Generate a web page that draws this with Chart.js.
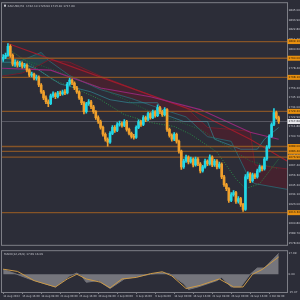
<!DOCTYPE html>
<html>
<head>
<meta charset="utf-8">
<script src="https://cdn.jsdelivr.net/npm/chart.js@4.4.1/dist/chart.umd.min.js"></script>
<style>
  html, body { margin: 0; padding: 0; background: #2c2d38; }
  #wrap { position: relative; width: 300px; height: 300px; overflow: hidden; }
  canvas { position: absolute; left: 0; }
  #main { top: 0; }
  #macd { top: 248px; }
</style>
</head>
<body>
<div id="wrap">
  <canvas id="main" width="300" height="248"></canvas>
  <canvas id="macd" width="300" height="52"></canvas>
</div>
<script>
"use strict"

// XAUUSD H4, values
const firstOpen = 1789.0
const closes = [
  1791.1,1793.3,1803.5,1793.3,1783.1,1785.4,1782.0,1784.3,1780.9,1782.0,
  1776.4,1770.7,1771.8,1767.3,1768.4,1759.4,1751.5,1744.7,1740.2,1737.9,
  1747.0,1749.2,1745.9,1750.4,1749.2,1751.5,1750.4,1760.5,1765.1,1761.7,
  1756.0,1751.5,1744.7,1739.1,1728.9,1737.9,1740.2,1734.5,1728.9,1722.1,
  1717.6,1710.9,1703.0,1697.3,1693.9,1704.0,1710.9,1707.4,1714.2,1715.3,
  1713.1,1717.6,1708.6,1704.0,1700.6,1699.5,1710.9,1717.6,1714.2,1722.1,
  1719.9,1726.6,1722.1,1728.9,1724.4,1733.4,1728.9,1725.5,1731.2,1708.6,
  1701.8,1697.3,1703.0,1695.0,1683.7,1665.6,1672.4,1676.9,1671.3,1674.7,
  1667.9,1674.7,1669.0,1661.1,1665.6,1672.4,1669.0,1676.9,1667.9,1672.4,
  1665.6,1669.0,1654.3,1645.3,1640.8,1627.2,1634.0,1636.2,1626.1,1629.5,
  1622.7,1617.0,1654.3,1657.7,1649.8,1656.6,1654.3,1661.1,1665.6,1663.4,
  1674.7,1688.2,1700.6,1714.2,1727.8,1722.1,1717.6
]
const highs = [
  1794.2,1796.0,1806.9,1805.2,1795.0,1788.3,1787.1,1786.5,1785.8,1784.2,
  1783.5,1778.0,1774.1,1773.0,1770.6,1769.8,1761.0,1753.2,1746.9,1742.4,
  1749.1,1751.6,1750.8,1752.2,1752.5,1753.6,1754.0,1762.3,1767.3,1766.4,
  1763.0,1757.9,1752.8,1746.3,1740.5,1739.6,1742.8,1741.7,1736.0,1730.2,
  1724.0,1719.1,1712.4,1704.6,1699.0,1706.2,1713.0,1712.8,1716.3,1718.0,
  1717.2,1719.8,1718.9,1710.1,1705.5,1702.8,1712.6,1719.5,1719.0,1724.3,
  1723.8,1728.4,1727.9,1730.7,1730.1,1736.8,1734.9,1730.3,1733.6,1732.5,
  1710.2,1703.5,1705.0,1704.4,1696.3,1685.0,1674.6,1679.1,1678.2,1676.8,
  1676.0,1676.9,1676.2,1670.5,1667.4,1674.5,1673.8,1679.4,1678.3,1674.2,
  1673.9,1671.1,1670.2,1655.9,1647.0,1642.1,1636.2,1638.5,1637.6,1631.8,
  1630.9,1624.1,1657.0,1660.1,1659.2,1658.7,1658.0,1663.2,1667.8,1667.0,
  1676.5,1690.0,1702.4,1716.0,1732.3,1729.6,1723.9
]
const lows = [
  1786.5,1789.4,1792.0,1791.0,1781.2,1780.6,1779.8,1780.4,1778.6,1778.9,
  1774.3,1768.9,1768.5,1765.2,1765.0,1757.6,1749.8,1742.5,1738.0,1734.6,
  1736.8,1745.2,1743.7,1744.5,1747.3,1747.8,1748.2,1749.1,1758.9,1759.8,
  1754.1,1749.6,1742.9,1736.8,1726.4,1727.2,1736.1,1732.3,1726.8,1720.0,
  1715.3,1708.7,1700.8,1695.0,1689.4,1692.5,1702.6,1705.1,1705.9,1712.4,
  1711.0,1711.6,1706.5,1702.2,1698.4,1697.3,1698.3,1709.4,1712.0,1712.8,
  1717.5,1718.6,1720.3,1720.9,1722.6,1723.0,1726.7,1723.4,1724.1,1706.3,
  1699.6,1695.1,1695.8,1692.8,1681.5,1662.9,1664.0,1670.8,1669.2,1669.9,
  1665.7,1666.4,1667.1,1658.8,1659.6,1664.1,1667.0,1667.6,1665.8,1666.3,
  1663.4,1664.0,1652.1,1643.2,1638.4,1625.0,1625.9,1632.1,1623.9,1624.2,
  1620.4,1614.8,1615.9,1652.0,1647.6,1648.3,1652.1,1652.9,1659.5,1661.2,
  1662.0,1673.1,1686.9,1699.3,1712.8,1720.3,1715.4
]

// indicator lines as [bar index, price]
const maSlow = [[-0.5,1778.6],[20,1776.4],[41,1756.0],[62,1745.9],[83,1731.2],[104,1705.2],[116,1697.3]]
const maRed = [[2,1806.9],[41,1768.4],[79,1731.2],[104,1697.3],[119.5,1672.4]]
const maFast = [[3,1799.0],[11,1784.3],[21,1765.1],[30,1756.0],[41,1742.5],[51,1725.5],[62,1716.5],[72,1711.9],[79,1702.9],[90,1682.6],[98,1652.0],[102,1640.8],[108,1646.4],[116,1674.7]]
const maMid = [[7,1789.9],[24,1774.1],[41,1756.0],[62,1728.9],[83,1708.6],[104,1672.4],[116,1663.4]]
const kijun = [[-0.5,1785.4],[7,1785.4],[15,1776.4],[24,1760.5],[37,1751.5],[45,1742.5],[53,1739.1],[65,1739.1],[68,1725.5],[76,1717.6],[86,1717.6],[89,1697.3],[100,1685.9],[107,1685.9],[110,1697.3],[116,1710.8]]
const spanA = [[-0.5,1789.9],[8,1787.7],[16,1796.7],[19,1787.7],[28,1770.1],[41,1754.1],[54,1743.9],[67,1731.6],[77,1722.9],[86,1700.3],[96,1694.9],[104,1650.0],[106,1646.5],[119.5,1640.0]]
const spanB = [[-0.5,1769.6],[8,1773.0],[16,1783.1],[19,1787.7],[28,1785.4],[41,1769.6],[54,1756.0],[67,1742.5],[77,1733.4],[86,1710.8],[96,1708.6],[104,1706.3],[106,1667.9],[119.5,1663.4]]

const levels = [1809.1, 1790.0, 1768.1, 1729.2, 1689.0, 1683.4, 1676.9, 1613.3]
const lastPrice = 1717.6
const priceTicks = [1845.0,1833.9,1822.8,1811.7,1800.6,1789.5,1778.4,1767.3,1756.2,1745.1,1734.0,1722.9,
  1711.8,1700.7,1689.6,1678.5,1667.4,1656.3,1645.2,1634.1,1623.0,1611.9,1600.8,1589.7,1578.6]

// MACD(12,26,9)
const macdMain = [[0,4.0],[4,1.3],[11,-4.0],[22,-10.8],[28,-1.4],[31,1.0],[33,-1.4],[35,-6.8],[40,-5.4],[45,-12.1],[51,-4.0],[58,-1.4],[62,0],[67,1.3],[70,0.5],[76,-8.1],[78,-12.9],[82,-10.8],[90,-5.4],[92,-2.7],[96,-10.8],[100,-10.8],[104,0],[107,5.3],[110,5.3],[116,17.7]]
const macdSignal = [[0,4.3],[6,2.4],[13,-5.4],[22,-10.8],[27,-4.0],[31,0],[35,-4.0],[41,-6.8],[45,-11.6],[50,-4.0],[56,-2.7],[62,0.5],[67,2.1],[71,-1.4],[77,-12.1],[83,-9.4],[91,-4.0],[97,-10.8],[101,-10.8],[105,0],[109,4.0],[116,14.7]]
const macdTicks = [17.69, 0, -15.07]

const xTickIdx = [0,8,16,24,32,40,48,56,64,72,80,88,96,104,112]
const xLabels = ["11 Aug 2022","15 Aug 16:00","18 Aug 08:00","23 Aug 00:00","25 Aug 16:00","30 Aug 08:00",
  "2 Sep 00:00","6 Sep 16:00","9 Sep 08:00","14 Sep 00:00","16 Sep 16:00","21 Sep 08:00",
  "26 Sep 00:00","28 Sep 16:00","3 Oct 08:00"]

const bull = '#22d6e6'
const bear = '#f0a02c'
const frameColor = '#7d7e86'
const textColor = '#c4c5cc'
const levelColor = 'rgba(150,92,36,0.85)'

Chart.defaults.font.family = 'DejaVu Sans'

const pts = arr => arr.map(([x, y]) => ({ x, y }))
const opens = closes.map((c, i) => i ? closes[i - 1] : firstOpen)
const candleColors = closes.map((c, i) => c >= opens[i] ? bull : bear)

const frame = {
  id: 'frame',
  afterDraw(chart) {
    const { ctx, chartArea: a } = chart
    ctx.save()
    ctx.strokeStyle = frameColor
    ctx.lineWidth = 1
    ctx.strokeRect(a.left - 0.5, a.top - 0.5, a.right - a.left + 1, a.bottom - a.top + 1)
    ctx.restore()
  }
}

const tags = {
  id: 'tags',
  afterDraw(chart) {
    const { ctx, chartArea: a, scales: { y } } = chart
    ctx.save()
    ctx.font = '2.8px "DejaVu Sans"'
    ctx.textBaseline = 'middle'
    levels.forEach(v => {
      const py = y.getPixelForValue(v)
      ctx.fillStyle = '#e8900f'
      ctx.fillRect(a.right + 0.5, py - 2.5, 13, 5)
      ctx.fillStyle = '#2a1a08'
      ctx.fillText(v.toFixed(2), a.right + 1.5, py)
    })
    const py = y.getPixelForValue(lastPrice)
    ctx.fillStyle = '#e6e6ea'
    ctx.fillRect(a.right + 0.5, py - 2.5, 13, 5)
    ctx.fillStyle = '#202028'
    ctx.fillText(lastPrice.toFixed(2), a.right + 1.5, py)
    // header
    ctx.fillStyle = textColor
    ctx.fillRect(a.left + 2, a.top + 1.5, 2, 2)
    ctx.fillText('XAUUSD,H4  1722.10 1723.90 1715.40 1717.60', a.left + 5.5, a.top + 2.6)
    ctx.restore()
  }
}

const macdTitle = {
  id: 'macdTitle',
  afterDraw(chart) {
    const { ctx, chartArea: a } = chart
    ctx.save()
    ctx.font = '2.8px "DejaVu Sans"'
    ctx.textBaseline = 'middle'
    ctx.fillStyle = textColor
    ctx.fillText('MACD(12,26,9) 17.69 16.09', a.left + 2, a.top + 3)
    ctx.restore()
  }
}

const line = (data, color, width, extra) => Object.assign({
  type: 'line', data: pts(data), borderColor: color, borderWidth: width,
  pointRadius: 0, tension: 0, fill: false, order: 5
}, extra || {})

const mainSets = [
  line(spanB, 'rgba(130,28,42,0.8)', 1, { order: 10 }),
  line(spanA, 'rgba(40,130,140,0.6)', 1, {
    order: 10, fill: { target: '-1', above: 'rgba(25,105,110,0.35)', below: 'rgba(105,20,35,0.42)' }
  }),
  line(kijun, 'rgba(50,150,165,0.6)', 1, { order: 8 }),
  line(maMid, '#1e6a38', 1, { order: 8, borderDash: [1, 1.5] }),
  line(maFast, '#2a8a46', 1, { order: 8, borderDash: [1, 1.5] }),
  line(maSlow, '#922878', 1.1, { order: 7 }),
  line(maRed, '#9c1c2c', 1.1, { order: 7 }),
  line([[-0.5, lastPrice], [119.5, lastPrice]], 'rgba(140,140,150,0.45)', 1, { order: 6 })
]
levels.forEach(v => mainSets.push(line([[-0.5, v], [119.5, v]], levelColor, 1.3, { order: 4 })))

mainSets.push({
  type: 'bar',
  data: closes.map((c, i) => ({ x: i, y: [lows[i], highs[i]] })),
  backgroundColor: candleColors, barThickness: 1, grouped: false, borderWidth: 0, order: 1
})
mainSets.push({
  type: 'bar',
  data: closes.map((c, i) => ({ x: i, y: [opens[i], c] })),
  backgroundColor: candleColors, barThickness: 2, grouped: false, borderWidth: 0, minBarLength: 1, order: 0
})

const tickFont = { size: 2.8, family: 'DejaVu Sans' }

new Chart(document.getElementById('main'), {
  type: 'bar',
  data: { datasets: mainSets },
  options: {
    responsive: false,
    animation: false,
    events: [],
    layout: { padding: { left: 2, top: 2, right: 0, bottom: 1 } },
    plugins: { legend: { display: false }, tooltip: { enabled: false } },
    scales: {
      x: { type: 'linear', min: -0.5, max: 119.5, offset: false, display: false },
      y: {
        position: 'right', min: 1576.5, max: 1853,
        grid: { display: false, drawTicks: false, tickLength: 0 },
        border: { display: false },
        afterBuildTicks: s => { s.ticks = priceTicks.map(v => ({ value: v })) },
        afterFit: s => { s.width = 13 },
        ticks: { color: textColor, font: tickFont, padding: 1.5, callback: v => v.toFixed(2) }
      }
    }
  },
  plugins: [frame, tags]
})

new Chart(document.getElementById('macd'), {
  type: 'line',
  data: {
    datasets: [
      line(macdMain, '#727278', 1, { fill: 'origin', backgroundColor: 'rgba(130,130,136,0.85)', order: 2 }),
      line(macdSignal, '#cc9a48', 1, { order: 1 })
    ]
  },
  options: {
    responsive: false,
    animation: false,
    events: [],
    layout: { padding: { left: 2, top: 1, right: 0, bottom: 0 } },
    plugins: { legend: { display: false }, tooltip: { enabled: false } },
    scales: {
      x: {
        type: 'linear', min: -0.5, max: 119.5, offset: false,
        grid: { display: true, drawOnChartArea: false, tickLength: 2, color: frameColor },
        border: { display: false },
        afterBuildTicks: s => { s.ticks = xTickIdx.map(v => ({ value: v })) },
        afterFit: s => { s.height = 8 },
        ticks: { align: 'start', autoSkip: false, maxRotation: 0, padding: 0.5, color: textColor, font: { size: 2.6, family: 'DejaVu Sans' },
          callback: (v, i) => xLabels[i] }
      },
      y: {
        position: 'right', min: -15.07, max: 19.58,
        grid: { display: false, drawTicks: false, tickLength: 0 },
        border: { display: false },
        afterBuildTicks: s => { s.ticks = macdTicks.map(v => ({ value: v })) },
        afterFit: s => { s.width = 13 },
        ticks: { color: textColor, font: tickFont, padding: 1.5, callback: v => v.toFixed(2) }
      }
    }
  },
  plugins: [frame, macdTitle]
})
</script>
</body>
</html>
